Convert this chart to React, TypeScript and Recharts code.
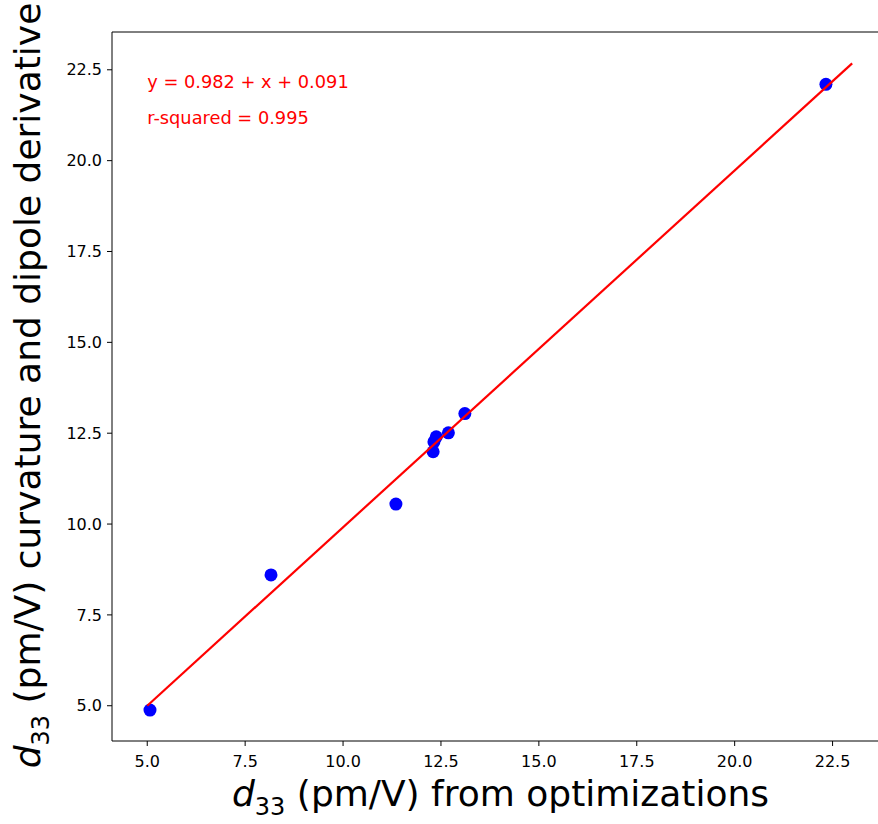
import { ScatterChart, Scatter, XAxis, YAxis, ReferenceLine } from 'recharts';

// measured points
const pointX = [5.07, 8.16, 11.35, 12.3, 12.32, 12.38, 12.69, 13.11, 22.33];
const pointY = [4.88, 8.6, 10.55, 11.99, 12.26, 12.4, 12.51, 13.04, 22.1];

// fitted line end points
const fitX = [5.0, 23.0];
const fitY = [5.001, 22.677];

const ticks = [5, 7.5, 10, 12.5, 15, 17.5, 20, 22.5];

const noteX = [5, 5];
const noteY = [22, 21];
const noteText = ['y = 0.982 + x + 0.091', 'r-squared = 0.995'];

const points = pointX.map((x, i) => ({ x, y: pointY[i] }));
const fit = fitX.map((x, i) => ({ x, y: fitY[i] }));
const notes = noteX.map((x, i) => ({ x, y: noteY[i], text: noteText[i] }));

const X_DOMAIN = [4.1, 23.66];
const Y_DOMAIN = [4.03, 23.54];

const FONT = '"DejaVu Sans", sans-serif';
const tickStyle = { fill: '#000', fontSize: 16, fontFamily: FONT };

const XTitle = () => (
  <text x={500.5} y={806} textAnchor="middle" fontFamily={FONT} fontSize={36} fill="#000" style={{ whiteSpace: 'pre' }}>
    <tspan fontStyle="italic">d</tspan>
    <tspan fontSize={24} dy={9}>33</tspan>
    <tspan dy={-9}> (pm/V) from optimizations</tspan>
  </text>
);

const YTitle = () => (
  <text
    transform="rotate(-90)"
    x={-385.5}
    y={40}
    textAnchor="middle"
    fontFamily={FONT}
    fontSize={36}
    fill="#000"
    style={{ whiteSpace: 'pre' }}
  >
    <tspan fontStyle="italic">d</tspan>
    <tspan fontSize={24} dy={9}>33</tspan>
    <tspan dy={-9}> (pm/V) curvature and dipole derivative</tspan>
  </text>
);

export default function App() {
  return (
    <div style={{ position: 'absolute', left: 0, top: 0, background: '#fff' }}>
      <ScatterChart width={878} height={824} margin={{ top: 32, right: 0, bottom: 0, left: 0 }}>
        <XAxis
          type="number"
          dataKey="x"
          domain={X_DOMAIN}
          ticks={ticks}
          tickFormatter={(v: number) => v.toFixed(1)}
          allowDataOverflow
          height={83}
          tickSize={5}
          tickMargin={10}
          tick={tickStyle}
          axisLine={{ stroke: '#000' }}
          tickLine={{ stroke: '#000' }}
          label={{ content: () => <XTitle /> }}
        />
        <YAxis
          type="number"
          dataKey="y"
          domain={Y_DOMAIN}
          ticks={ticks}
          tickFormatter={(v: number) => v.toFixed(1)}
          allowDataOverflow
          width={112}
          tickSize={5}
          tickMargin={5}
          tick={tickStyle}
          axisLine={{ stroke: '#000' }}
          tickLine={{ stroke: '#000' }}
          label={{ content: () => <YTitle /> }}
        />
        {/* top spine */}
        <ReferenceLine y={Y_DOMAIN[1]} stroke="#000" strokeWidth={1} ifOverflow="visible" />
        <Scatter
          data={points}
          fill="#0000ff"
          isAnimationActive={false}
          shape={(p: any) => <circle cx={p.cx} cy={p.cy} r={6.5} fill="#0000ff" />}
        />
        <Scatter
          data={fit}
          line={{ stroke: '#ff0000', strokeWidth: 2.2 }}
          isAnimationActive={false}
          shape={() => <g />}
        />
        <Scatter
          data={notes}
          isAnimationActive={false}
          shape={(p: any) => (
            <text x={p.cx} y={p.cy} fill="#ff0000" fontSize={17.8} fontFamily={FONT}>
              {p.payload.text}
            </text>
          )}
        />
      </ScatterChart>
    </div>
  );
}
